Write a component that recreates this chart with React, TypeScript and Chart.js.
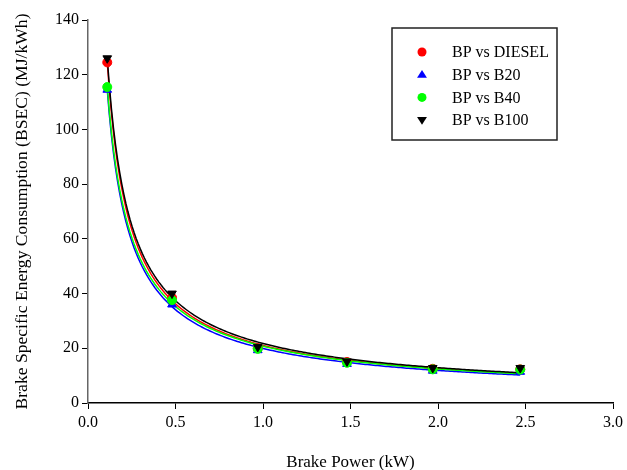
import React, { useEffect, useRef } from "react";
import { Chart, registerables } from "chart.js";

Chart.register(...registerables);

const seriesNames = ["BP vs DIESEL", "BP vs B20", "BP vs B40", "BP vs B100"];
const brakePower = [0.11, 0.48, 0.97, 1.48, 1.97, 2.47];
const bsecDiesel = [124.5, 38.5, 20.0, 15.0, 12.5, 12.3];
const bsecB20 = [114.5, 36.0, 19.3, 14.3, 11.8, 11.4];
const bsecB40 = [115.5, 37.6, 19.8, 14.7, 12.3, 12.2];
const bsecB100 = [126.0, 40.0, 20.5, 15.2, 12.8, 12.8];
const xTicks = [0, 0.5, 1, 1.5, 2, 2.5, 3];
const yTicks = [0, 20, 40, 60, 80, 100, 120, 140];

const colors = ["#ff0000", "#0000ff", "#00ff00", "#000000"];
const styles: any[] = ["circle", "triangle", "circle", "triangle"];
const rotations = [0, 0, 0, 180];

// trend line: least squares fit of y = y0 + a * x^b (grid search on b)
function fitCurve(xs: number[], ys: number[]) {
  let best = { y0: 0, a: 0, b: -1, sse: Infinity };
  for (let b = -3; b <= -0.1; b += 0.005) {
    const u = xs.map((x) => Math.pow(x, b));
    const n = u.length;
    const mu = u.reduce((s, v) => s + v, 0) / n;
    const my = ys.reduce((s, v) => s + v, 0) / n;
    let sxy = 0, sxx = 0;
    for (let i = 0; i < n; i++) {
      sxy += (u[i] - mu) * (ys[i] - my);
      sxx += (u[i] - mu) * (u[i] - mu);
    }
    const a = sxy / sxx;
    const y0 = my - a * mu;
    let sse = 0;
    for (let i = 0; i < n; i++) sse += Math.pow(y0 + a * u[i] - ys[i], 2);
    if (sse < best.sse) best = { y0, a, b, sse };
  }
  const pts: { x: number; y: number }[] = [];
  const x0 = xs[0], x1 = xs[xs.length - 1];
  const steps = 200;
  for (let i = 0; i <= steps; i++) {
    const x = x0 + ((x1 - x0) * i) / steps;
    pts.push({ x, y: best.y0 + best.a * Math.pow(x, best.b) });
  }
  return pts;
}

function drawMarker(ctx: any, style: string, rot: number, x: number, y: number, r: number, color: string) {
  ctx.save();
  ctx.fillStyle = color;
  ctx.beginPath();
  if (style === "circle") {
    ctx.arc(x, y, r, 0, Math.PI * 2);
  } else {
    const s = rot === 180 ? -1 : 1;
    const h = r * 1.6;
    ctx.moveTo(x, y - s * h * 0.66);
    ctx.lineTo(x + r * 1.1, y + s * h * 0.44);
    ctx.lineTo(x - r * 1.1, y + s * h * 0.44);
    ctx.closePath();
  }
  ctx.fill();
  ctx.restore();
}

const legendPlugin = {
  id: "boxLegend",
  afterDraw(chart: any) {
    const ctx = chart.ctx;
    const bx = 392, by = 28, bw = 165, bh = 112;
    ctx.save();
    ctx.strokeStyle = "#222";
    ctx.lineWidth = 1.5;
    ctx.strokeRect(bx, by, bw, bh);
    ctx.font = "16px 'Liberation Serif'";
    ctx.textBaseline = "middle";
    ctx.textAlign = "left";
    seriesNames.forEach((name, i) => {
      const cy = by + 24 + i * 22.7;
      drawMarker(ctx, styles[i], rotations[i], 422, cy, 4.5, colors[i]);
      ctx.fillStyle = "#000";
      ctx.fillText(name, 452, cy + 1);
    });
    ctx.restore();
  },
};

export default function App() {
  const ref = useRef<HTMLCanvasElement>(null);
  useEffect(() => {
    document.body.style.margin = "0";
    const all = [bsecDiesel, bsecB20, bsecB40, bsecB100];
    const lineSets = all.map((ys, i) => ({
      label: seriesNames[i] + " fit",
      data: fitCurve(brakePower, ys),
      showLine: true,
      borderColor: colors[i],
      backgroundColor: colors[i],
      borderWidth: 1.5,
      pointRadius: 0,
      tension: 0,
      order: 10 - i,
    }));
    const pointSets = all.map((ys, i) => ({
      label: seriesNames[i],
      data: brakePower.map((x, j) => ({ x, y: ys[j] })),
      showLine: false,
      borderColor: colors[i],
      backgroundColor: colors[i],
      pointStyle: styles[i],
      rotation: rotations[i],
      pointRadius: styles[i] === "circle" ? 4.5 : 5,
      pointBorderWidth: 1,
      order: 4 - i,
    }));
    const font = { family: "'Liberation Serif'", size: 16 };
    const chart = new Chart(ref.current!, {
      type: "scatter",
      data: { datasets: [...lineSets, ...pointSets] as any },
      options: {
        animation: false,
        responsive: false,
        layout: { padding: { top: 20, right: 13, left: 0, bottom: 0 } },
        plugins: { legend: { display: false }, tooltip: { enabled: false } },
        scales: {
          x: {
            type: "linear",
            min: 0,
            max: 3,
            afterBuildTicks: (s: any) => {
              s.ticks = xTicks.map((v) => ({ value: v }));
            },
            afterFit: (s: any) => {
              s.height = 67;
            },
            ticks: {
              color: "#000",
              font,
              padding: 4,
              maxRotation: 0,
              callback: (v: any) => Number(v).toFixed(1),
            },
            grid: { drawOnChartArea: false, drawTicks: true, tickLength: 6, color: "#000" },
            border: { display: true, color: "#000", width: 1.5 },
            title: {
              display: true,
              text: "Brake Power (kW)",
              color: "#000",
              font: { family: "'Liberation Serif'", size: 17 },
              padding: { top: 4, bottom: -3 },
            },
          },
          y: {
            type: "linear",
            min: 0,
            max: 140,
            afterBuildTicks: (s: any) => {
              s.ticks = yTicks.map((v) => ({ value: v }));
            },
            afterFit: (s: any) => {
              s.width = 88;
            },
            ticks: { color: "#000", font, padding: 3 },
            grid: { drawOnChartArea: false, drawTicks: true, tickLength: 6, color: "#000" },
            border: { display: true, color: "#666", width: 1.5 },
            title: {
              display: true,
              text: "Brake Specific Energy Consumption (BSEC) (MJ/kWh)",
              color: "#000",
              font: { family: "'Liberation Serif'", size: 17.6 },
              padding: { top: 12, bottom: 0 },
            },
          },
        },
      },
      plugins: [legendPlugin],
    });
    return () => chart.destroy();
  }, []);
  return (
    <div style={{ position: "absolute", left: 0, top: 0, width: 627, height: 470 }}>
      <canvas ref={ref} width={627} height={470} style={{ width: 627, height: 470 }} />
    </div>
  );
}
